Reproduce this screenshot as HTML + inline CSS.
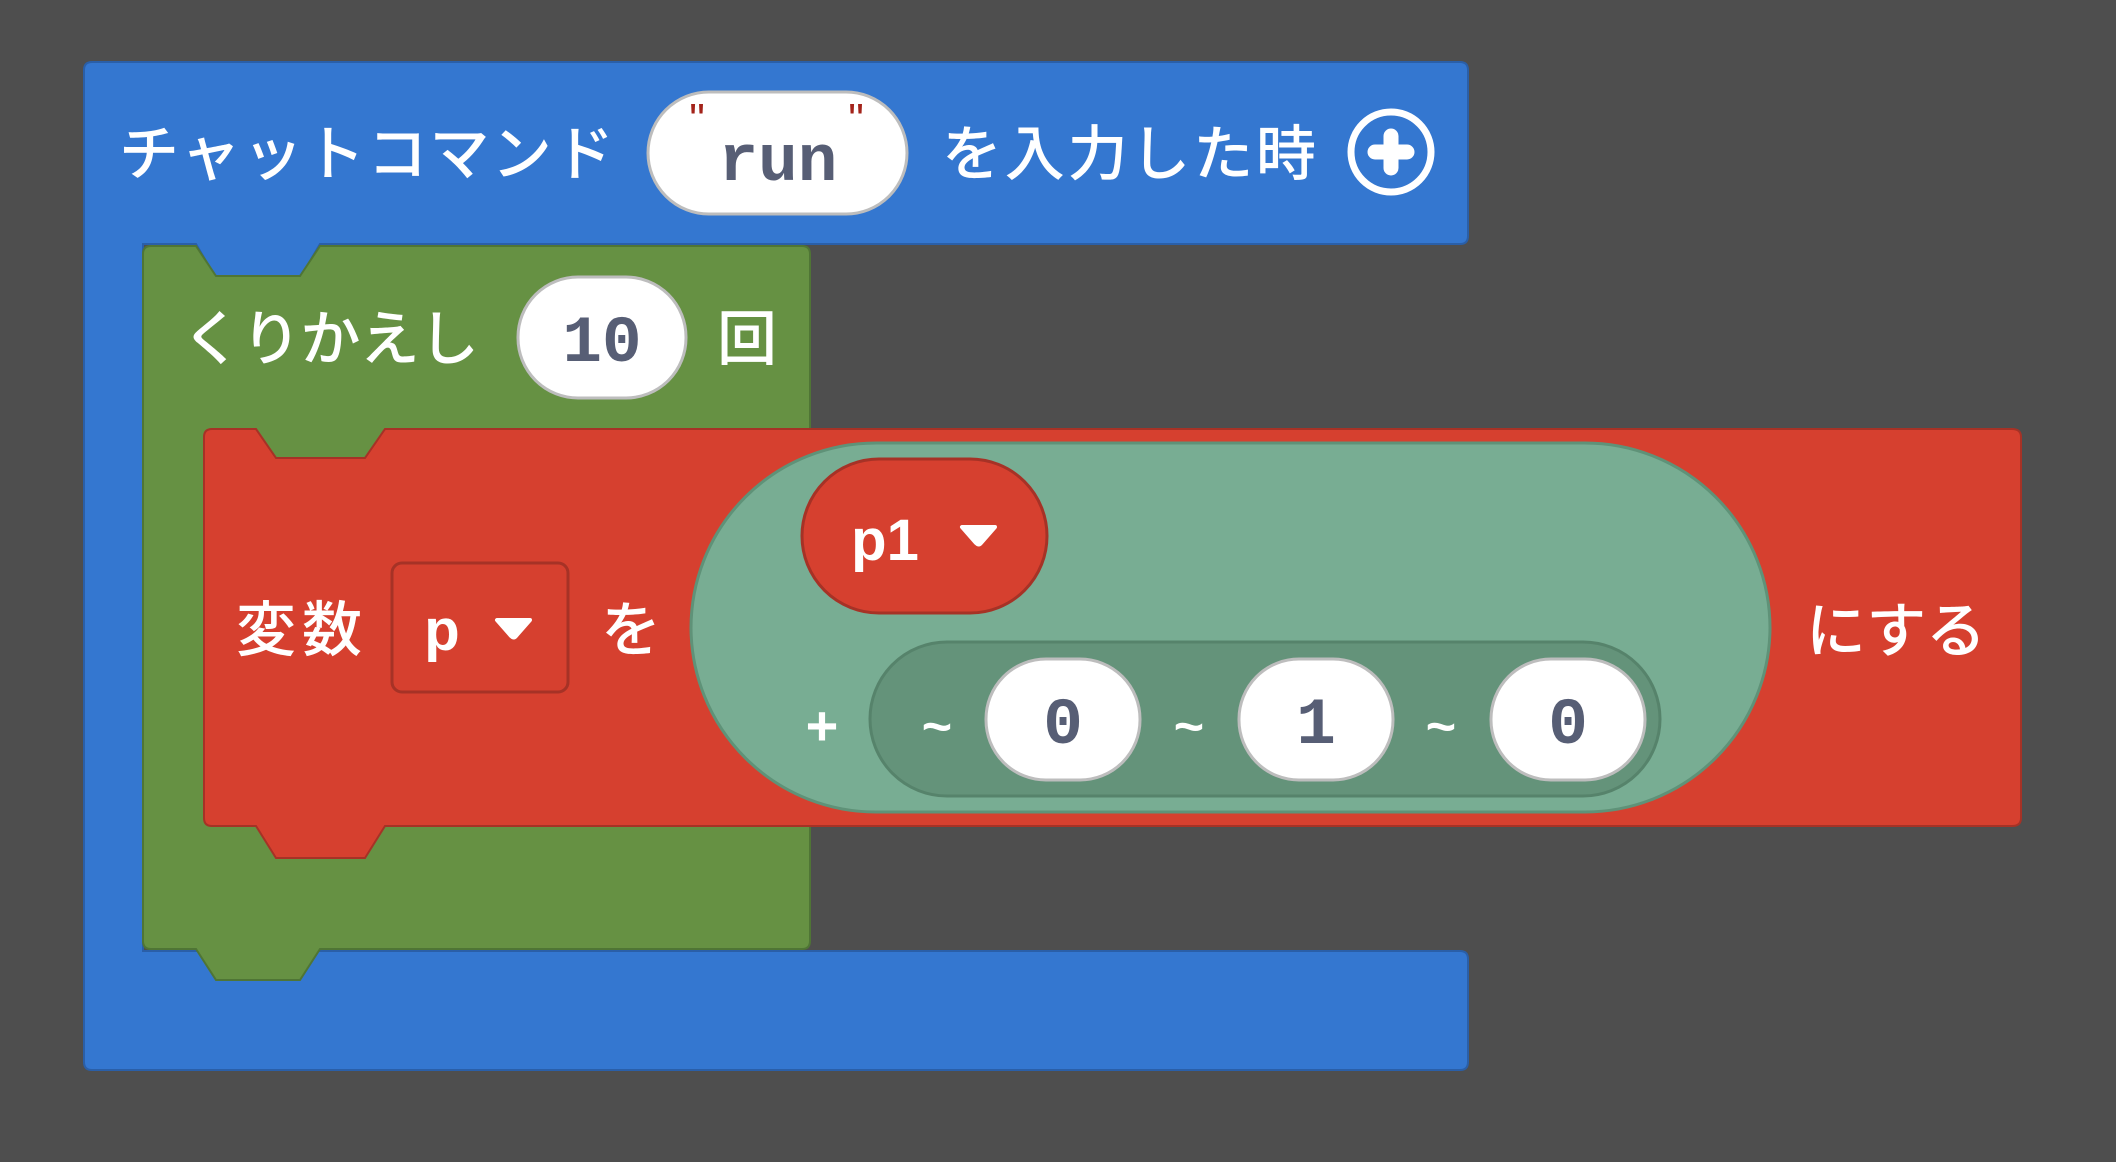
<!DOCTYPE html>
<html><head><meta charset="utf-8"><style>
html,body{margin:0;padding:0;background:#4e4e4e;}
svg{display:block}
.jp{font-family:"Noto Sans CJK JP","Liberation Sans",sans-serif;font-weight:500;fill:#fff;font-size:60px}
.mono{font-family:"Liberation Mono","DejaVu Sans Mono",monospace;font-weight:bold;fill:#575e75}
</style></head><body>
<svg width="2116" height="1162" viewBox="0 0 2116 1162" xmlns="http://www.w3.org/2000/svg">
<rect width="2116" height="1162" fill="#4e4e4e"/>
<path d="M92,62 H1460 Q1468,62 1468,70 V236 Q1468,244 1460,244 H320 L300,278 H216 L196,244 H143 V951 H1460 Q1468,951 1468,959 V1062 Q1468,1070 1460,1070 H92 Q84,1070 84,1062 V70 Q84,62 92,62 Z" fill="#3477d0" stroke="#2a5fa8" stroke-width="2"/>
<text class="jp" x="119" y="175" textLength="495" lengthAdjust="spacing">チャットコマンド</text>
<rect x="648" y="92" width="259" height="122" rx="61" fill="#fff" stroke="#bdbdbd" stroke-width="3"/>
<text x="697" y="134" font-family="Liberation Sans,sans-serif" font-size="44" fill="#a3231a" text-anchor="middle">"</text>
<text x="856" y="134" font-family="Liberation Sans,sans-serif" font-size="44" fill="#a3231a" text-anchor="middle">"</text>
<text class="mono" x="778" y="180" font-size="66" text-anchor="middle">run</text>
<text class="jp" x="942" y="175" textLength="374" lengthAdjust="spacing">を入力した時</text>
<circle cx="1391" cy="152" r="40" fill="none" stroke="#fff" stroke-width="7"/>
<path d="M1391,136 V168 M1375,152 H1407" stroke="#fff" stroke-width="15" stroke-linecap="round"/>
<path d="M151,246 H196 L216,276 H300 L320,246 H802 Q810,246 810,254 V941 Q810,949 802,949 H320 L300,980 H216 L196,949 H151 Q143,949 143,941 V254 Q143,246 151,246 Z" fill="#669143" stroke="#4f7535" stroke-width="2"/>
<text class="jp" x="182" y="360" textLength="297" lengthAdjust="spacing">くりかえし</text>
<rect x="518" y="277" width="168" height="121" rx="60" fill="#fff" stroke="#bdbdbd" stroke-width="3"/>
<text class="mono" x="602" y="361" font-size="66" text-anchor="middle">10</text>
<text class="jp" x="717" y="360">回</text>
<path d="M212,429 H256 L276,458 H365 L385,429 H2012 Q2021,429 2021,437 V818 Q2021,826 2012,826 H385 L365,858 H276 L256,826 H212 Q204,826 204,818 V437 Q204,429 212,429 Z" fill="#d6402f" stroke="#a63226" stroke-width="2"/>
<text class="jp" x="236" y="651" textLength="126" lengthAdjust="spacing">変数</text>
<rect x="392" y="563" width="176" height="129" rx="10" fill="#d6402f" stroke="#a63226" stroke-width="3"/>
<text x="442" y="650" font-family="Liberation Sans,sans-serif" font-weight="bold" font-size="58" fill="#fff" text-anchor="middle">p</text>
<path d="M497,620 L530,620 L516,636 Q514,639 511,636 Z" fill="#fff" stroke="#fff" stroke-width="4" stroke-linejoin="round"/>
<text class="jp" x="601" y="651">を</text>
<path d="M876,443 H1585 A185,185 0 0 1 1770,628 A185,185 0 0 1 1585,812 H876 A185,185 0 0 1 691,628 A185,185 0 0 1 876,443 Z" fill="#78ad93" stroke="#5f9278" stroke-width="3"/>
<rect x="802" y="459" width="245" height="154" rx="77" fill="#d6402f" stroke="#a63226" stroke-width="3"/>
<text x="885" y="560" font-family="Liberation Sans,sans-serif" font-weight="bold" font-size="58" fill="#fff" text-anchor="middle">p1</text>
<path d="M962,527 L995,527 L981,543 Q979,546 976,543 Z" fill="#fff" stroke="#fff" stroke-width="4" stroke-linejoin="round"/>
<text x="822" y="745" font-family="Liberation Sans,sans-serif" font-weight="bold" font-size="56" fill="#fff" text-anchor="middle">+</text>
<rect x="870" y="642" width="790" height="154" rx="77" fill="#64937a" stroke="#56836b" stroke-width="3"/>
<text x="937" y="744" font-family="Liberation Mono,monospace" font-weight="bold" font-size="52" fill="#fff" text-anchor="middle">~</text>
<rect x="986" y="659" width="154" height="121" rx="60" fill="#fff" stroke="#bdbdbd" stroke-width="3"/>
<text class="mono" x="1063" y="743" font-size="66" text-anchor="middle">0</text>
<text x="1189" y="744" font-family="Liberation Mono,monospace" font-weight="bold" font-size="52" fill="#fff" text-anchor="middle">~</text>
<rect x="1239" y="659" width="154" height="121" rx="60" fill="#fff" stroke="#bdbdbd" stroke-width="3"/>
<text class="mono" x="1316" y="743" font-size="66" text-anchor="middle">1</text>
<text x="1441" y="744" font-family="Liberation Mono,monospace" font-weight="bold" font-size="52" fill="#fff" text-anchor="middle">~</text>
<rect x="1491" y="659" width="154" height="121" rx="60" fill="#fff" stroke="#bdbdbd" stroke-width="3"/>
<text class="mono" x="1568" y="743" font-size="66" text-anchor="middle">0</text>
<text class="jp" x="1806" y="652" textLength="180" lengthAdjust="spacing">にする</text>
</svg>
</body></html>
